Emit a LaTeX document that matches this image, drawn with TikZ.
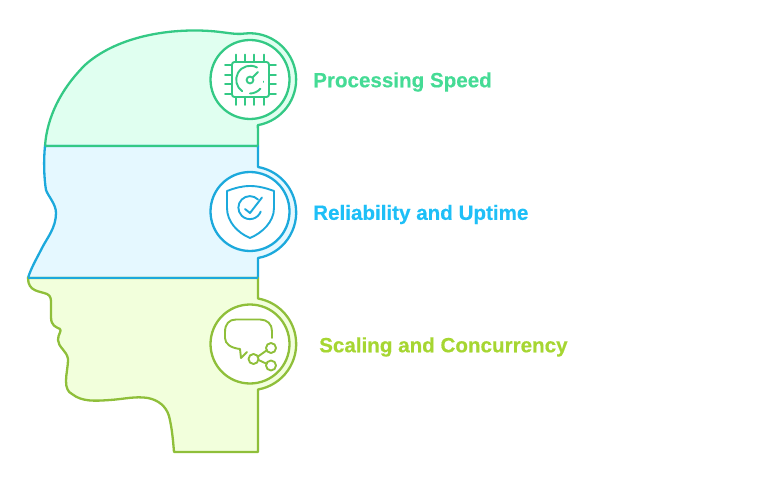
\documentclass[tikz,border=0pt]{standalone}
\usepackage{fontspec}
\setmainfont[BoldFeatures={FakeBold=0.5}]{Liberation Sans}
\definecolor{gs}{HTML}{34C985}\definecolor{gf}{HTML}{E0FFF0}\definecolor{gt}{HTML}{45DB95}
\definecolor{bs}{HTML}{1CA9DC}\definecolor{bf}{HTML}{E5F8FF}\definecolor{bt}{HTML}{1EBFF7}
\definecolor{ls}{HTML}{8FBF3A}\definecolor{lf}{HTML}{F2FFDC}\definecolor{lt}{HTML}{A6D632}
\tikzset{
  band/.style={line width=2.3pt,line join=round},
  ring/.style={line width=2.3pt,fill=white},
  icon/.style={line width=1.9pt,line cap=round,line join=round},
  lab/.style={font=\bfseries\fontsize{20.6}{24}\selectfont,anchor=west,inner sep=0pt}
}
\begin{document}
\begin{tikzpicture}[x=1pt,y=-1pt]
\useasboundingbox (0,0) rectangle (784,478);
% top band
\path[band,draw=gs,fill=gf] (45,146) .. controls (47,118) and (60,90) .. (85,65)
  .. controls (115,38) and (165,28) .. (210,31) .. controls (225,32) and (235,35) .. (245,33.5)
  arc[start angle=-96,end angle=80,radius=46.3] -- (258,146) -- cycle;
% middle band
\path[band,draw=bs,fill=bf] (45,146) .. controls (43.5,160) and (44,178) .. (46,190)
  .. controls (48,196) and (56,204) .. (56,213) .. controls (56,228) and (47,238) .. (42,248)
  .. controls (37,258) and (31,268) .. (28,278) -- (258,278) -- (258,258)
  arc[start angle=80,end angle=-80,radius=46.2] -- (258,146) -- cycle;
% bottom band
\path[band,draw=ls,fill=lf] (28,278) .. controls (28,292) and (40,291) .. (47,294)
  .. controls (51,296) and (51,299) .. (51,304) -- (51,317) .. controls (51,326) and (56,327) .. (60,329)
  .. controls (62,331) and (58,334) .. (58,340) .. controls (58,347) and (67,351) .. (68,359)
  .. controls (68,367) and (66,374) .. (66,381) .. controls (66,388) and (68,392) .. (72,394)
  .. controls (82,402) and (95,401) .. (110,400) .. controls (125,399) and (135,396) .. (148,398)
  .. controls (158,400) and (166,406) .. (169,416) .. controls (172,428) and (173,440) .. (174,452)
  -- (258,452) -- (258,389.5) arc[start angle=80,end angle=-80,radius=46.2] -- (258,278) -- cycle;
\path[draw=gs,line width=2.3pt] (45,146) -- (258,146);
\path[draw=bs,line width=2.3pt] (28,278) -- (258,278);
% rings
\node[circle,draw=gs,ring,minimum size=79pt,inner sep=0pt] (r1) at (250,79.5) {};
\node[circle,draw=bs,ring,minimum size=79pt,inner sep=0pt] (r2) at (250,211.5) {};
\node[circle,draw=ls,ring,minimum size=79pt,inner sep=0pt] (r3) at (250,344) {};
% chip icon
\begin{scope}[icon]
  \draw[gs,rounded corners=2.5pt] (232,62) rectangle (269,97);
  \foreach \p in {236,245,254,264} {\draw[gs] (\p,54.5) -- (\p,62); \draw[gs] (\p,97) -- (\p,105);}
  \foreach \p in {65,75,84,94} {\draw[gs] (225,\p) -- (232,\p); \draw[gs] (269,\p) -- (276,\p);}
  \draw[gs] (250,80) circle[radius=3.4];
  \draw[gs] (252.5,77.5) -- (258,72);
  \draw[gs] (257,67.5) arc[start angle=-61,end angle=-235,radius=14];
  \draw[gs] (250,93.5) arc[start angle=90,end angle=40,radius=13.5];
  \draw[gs] (263.5,81.5) -- (263.5,82);
\end{scope}
% shield icon
\begin{scope}[icon]
  \draw[bs] (227,191) .. controls (235,188) and (242,186) .. (250,186) .. controls (258,186) and (266,188) .. (274,191)
    -- (274,208) .. controls (274,222) and (262,233) .. (250,238) .. controls (238,233) and (227,222) .. (227,208) -- cycle;
  \draw[bs] (258,199.5) arc[start angle=-45,end angle=-340,radius=11.5];
  \draw[bs] (245,209) -- (250,213) -- (262,197.5);
\end{scope}
% bubble icon
\begin{scope}[icon]
  \draw[ls] (272,338) -- (272,331) .. controls (272,324) and (267,319.5) .. (260,319.5) -- (236,319.5)
    .. controls (229,319.5) and (225,324) .. (225,332) -- (225,338) .. controls (225,344) and (231,348) .. (240,349)
    -- (241,358) -- (247,352);
  \draw[ls] (253.5,359) circle[radius=5];
  \draw[ls] (271,348) circle[radius=5];
  \draw[ls] (271,365.5) circle[radius=5];
  \draw[ls] (258,356.5) -- (266.5,350.5);
  \draw[ls] (258.5,360) -- (266,363.5);
\end{scope}
% labels
\node[lab,text=gt] (t1) at (313,82) {Processing Speed};
\node[lab,text=bt] (t2) at (313,214.5) {Reliability and Uptime};
\node[lab,text=lt] (t3) at (319,347) {Scaling and Concurrency};
\end{tikzpicture}
\end{document}
